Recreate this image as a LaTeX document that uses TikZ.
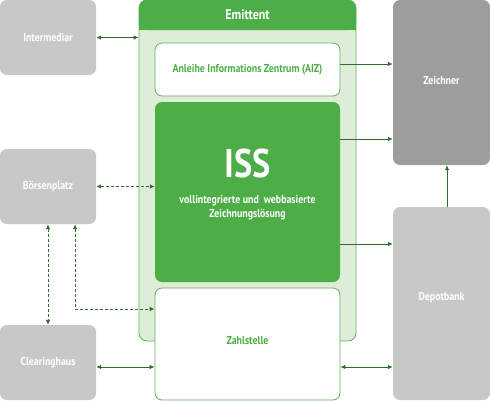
\documentclass[tikz,border=0pt]{standalone}
\usepackage{fontspec}
\setmainfont{PT Sans}[FakeStretch=0.86]
\usetikzlibrary{arrows.meta}
\definecolor{gLight}{HTML}{DDEDD8}
\definecolor{gDark}{HTML}{4DAE48}
\definecolor{gBorder}{HTML}{5DB558}
\definecolor{gArrow}{HTML}{2F6B2F}
\definecolor{grayL}{HTML}{C8C8C8}
\definecolor{grayD}{HTML}{9D9D9D}
\begin{document}
\begin{tikzpicture}[x=1pt,y=-1pt,
  font=\bfseries\fontsize{11.5}{13}\selectfont,
  graybox/.style={fill=grayL, rounded corners=7pt, inner sep=0pt, text=white},
  whitebox/.style={draw=gBorder, line width=0.8pt, fill=white, rounded corners=7pt, inner sep=0pt, text=gDark},
  conn/.style={draw=gArrow, line width=0.9pt, -{Latex[length=5pt,width=4.5pt]}},
  conn2/.style={draw=gArrow, line width=0.9pt, {Latex[length=5pt,width=4.5pt]}-{Latex[length=5pt,width=4.5pt]}},
  dconn/.style={conn2, dash pattern=on 3pt off 2pt}]
\useasboundingbox (0,0) rectangle (490,400);
% gray boxes
\node[graybox, minimum width=96pt, minimum height=75pt] (inter) at (48,37.5) {Intermediar};
\node[graybox, minimum width=96pt, minimum height=75pt] (bors) at (48,186.5) {Börsenplatz};
\node[graybox, minimum width=96pt, minimum height=75pt] (clear) at (48,362.5) {Clearinghaus};
\node[graybox, fill=grayD, minimum width=97pt, minimum height=165pt, label={[text=white, yshift=2.5pt]center:Zeichner}] (zeich) at (441.5,82.5) {};
\node[graybox, minimum width=97pt, minimum height=193pt, label={[text=white, yshift=5.5pt]center:Depotbank}] (depot) at (441.5,303.5) {};
% Emittent panel
\node[draw=gBorder, line width=0.8pt, fill=gLight, rounded corners=8pt, minimum width=217pt, minimum height=341pt, inner sep=0pt] (emit) at (247.5,170.5) {};
\fill[gDark] (139,15) rectangle (356,30);
\node[fill=gDark, rounded corners=8pt, minimum width=217pt, minimum height=30pt, inner sep=0pt, text=white, font=\bfseries\fontsize{14}{16}\selectfont] (head) at (247.5,15) {Emittent};
% inner boxes
\node[whitebox, minimum width=185pt, minimum height=53pt] (aiz) at (247.5,69.5) {Anleihe Informations Zentrum (AIZ)};
\node[fill=gDark, rounded corners=7pt, minimum width=185pt, minimum height=180pt, inner sep=0pt] (iss) at (247.5,192) {};
\node[text=white, font=\bfseries\fontsize{40}{40}\selectfont, inner sep=0pt] (isst) at (247.5,163) {ISS};
\node[text=white, align=center, inner sep=0pt] (isss) at (247.5,208) {vollintegrierte und\ \ webbasierte\\[1pt]Zeichnungslösung};
\node[whitebox, minimum width=185pt, minimum height=112pt, label={[text=gDark, yshift=3pt]center:Zahlstelle}] (zahl) at (247.5,344) {};
% connectors
\draw[conn2] (inter.east) -- (inter.east -| emit.west);
\draw[conn] ([yshift=5.5pt]aiz.east) -- ([yshift=5.5pt]aiz.east -| zeich.west);
\draw[conn] ([yshift=53pt]iss.east) -- ([yshift=53pt]iss.east -| zeich.west);
\draw[conn] ([yshift=-52pt]iss.east) -- ([yshift=-52pt]iss.east -| depot.west);
\draw[conn] ([xshift=5.5pt]depot.north) -- ([xshift=5.5pt]zeich.south);
\draw[conn2] ([yshift=-4.5pt]clear.east) -- ([yshift=-4.5pt]clear.east -| zahl.west);
\draw[conn2] ([yshift=-23pt]zahl.east) -- ([yshift=-23pt]zahl.east -| depot.west);
\draw[dconn] (bors.east) -- (bors.east -| iss.west);
\draw[dconn] (bors.south) -- (clear.north);
\coordinate (bz) at (75,326);
\draw[dconn] (bors.south -| bz) |- ([yshift=35pt]zahl.west);
\end{tikzpicture}
\end{document}
